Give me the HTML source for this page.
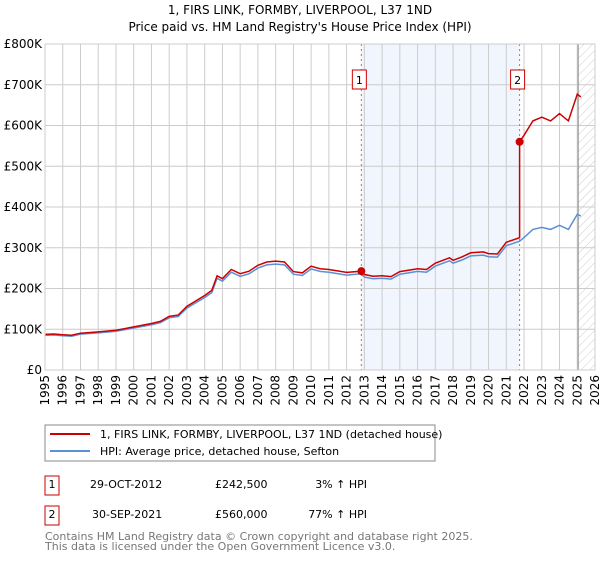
<!DOCTYPE html>
<html><head><meta charset="utf-8"><style>
body{margin:0;background:#fff;font-family:"DejaVu Sans","Liberation Sans",sans-serif;}
svg text{font-family:"DejaVu Sans","Liberation Sans",sans-serif;}
</style></head><body>
<svg id="c" width="600" height="560" xmlns="http://www.w3.org/2000/svg">
<defs><pattern id="hatch" width="6" height="6" patternUnits="userSpaceOnUse" patternTransform="rotate(45)"><line x1="0" y1="0" x2="0" y2="6" stroke="#ccc" stroke-width="1"/></pattern></defs>
<text x="300" y="14" text-anchor="middle" font-size="12" fill="#000">1, FIRS LINK, FORMBY, LIVERPOOL, L37 1ND</text>
<text x="300" y="31" text-anchor="middle" font-size="12" fill="#000">Price paid vs. HM Land Registry's House Price Index (HPI)</text>
<g id="plot"></g>
<rect x="45" y="425" width="390" height="36" fill="#fff" stroke="#888"/>
<line x1="50" y1="434" x2="90" y2="434" stroke="#cc0000" stroke-width="2"/>
<text x="100" y="438" font-size="11">1, FIRS LINK, FORMBY, LIVERPOOL, L37 1ND (detached house)</text>
<line x1="50" y1="451" x2="90" y2="451" stroke="#5b8fd6" stroke-width="2"/>
<text x="100" y="455" font-size="11">HPI: Average price, detached house, Sefton</text>
<g font-size="11">
<rect x="45" y="476" width="14" height="19" fill="#fff" stroke="#cc0000"/>
<text x="52" y="488" text-anchor="middle">1</text>
<text x="90" y="488">29-OCT-2012</text><text x="215" y="488">£242,500</text><text x="367" y="488" text-anchor="end">3% ↑ HPI</text>
<rect x="45" y="506" width="14" height="19" fill="#fff" stroke="#cc0000"/>
<text x="52" y="518" text-anchor="middle">2</text>
<text x="92" y="518">30-SEP-2021</text><text x="215" y="518">£560,000</text><text x="367" y="518" text-anchor="end">77% ↑ HPI</text>
</g>
<text x="45" y="540" font-size="11" fill="#777">Contains HM Land Registry data © Crown copyright and database right 2025.</text>
<text x="45" y="550" font-size="11" fill="#777">This data is licensed under the Open Government Licence v3.0.</text>
</svg>
<script>
const hpiYears=[1995,1995.5,1996,1996.5,1997,1998,1999,2000,2001,2001.5,2002,2002.5,2003,2004,2004.4,2004.7,2005,2005.5,2006,2006.5,2007,2007.5,2008,2008.5,2009,2009.5,2010,2010.5,2011,2012,2012.83,2013,2013.5,2014,2014.5,2015,2016,2016.5,2017,2017.8,2018,2018.5,2019,2019.7,2020,2020.5,2021,2021.75,2022,2022.5,2023,2023.5,2024,2024.5,2025,2025.2];
const hpiValues=[85,86,84,83,88,91,95,103,111,116,128,131,152,178,190,225,218,240,230,236,250,258,260,258,235,232,248,242,240,233,236,228,224,225,223,235,242,240,255,268,262,270,280,282,278,277,305,316,325,345,350,345,355,345,382,378];
const sales=[{t:2012.83,v:242.5,label:"1"},{t:2021.75,v:560,label:"2"}];
const yTicks=[0,100,200,300,400,500,600,700,800];
const yLabels=["£0","£100K","£200K","£300K","£400K","£500K","£600K","£700K","£800K"];
const xTicks=[1995,1996,1997,1998,1999,2000,2001,2002,2003,2004,2005,2006,2007,2008,2009,2010,2011,2012,2013,2014,2015,2016,2017,2018,2019,2020,2021,2022,2023,2024,2025,2026];

const NS="http://www.w3.org/2000/svg";
const X0=45,X1=595,Y0=370,Y1=44;
const xs=t=>X0+(t-1995)/(2026-1995)*(X1-X0);
const ys=v=>Y0-v/800*(Y0-Y1);
const g=document.getElementById('plot');
function mk(tag,a){const e=document.createElementNS(NS,tag);for(const k in a)e.setAttribute(k,a[k]);g.appendChild(e);return e;}
function hpiAt(t){for(let i=1;i<hpiYears.length;i++){if(t<=hpiYears[i]){const f=(t-hpiYears[i-1])/(hpiYears[i]-hpiYears[i-1]);return hpiValues[i-1]+f*(hpiValues[i]-hpiValues[i-1]);}}return hpiValues[hpiValues.length-1];}

let sh=mk('rect',{x:xs(sales[0].t),y:Y1,width:xs(sales[1].t)-xs(sales[0].t),height:Y0-Y1,fill:'#eef3fc',opacity:0.8});


let ht=mk('rect',{x:xs(2025.05),y:Y1,width:X1-xs(2025.05),height:Y0-Y1,fill:'url(#hatch)'});


xTicks.forEach((t,i)=>{
 let l=mk('line',{x1:xs(t),x2:xs(t),y1:Y1,y2:Y0,stroke:'#ccc'});
 
 
 let tx=mk('text',{x:0,y:0,'font-size':12,'text-anchor':'end',transform:`translate(${xs(t)+4},${Y0+5}) rotate(-90)`});
 tx.textContent=t;
 
 
});
yTicks.forEach((v,i)=>{
 let l=mk('line',{x1:X0,x2:X1,y1:ys(v),y2:ys(v),stroke:'#ccc'});
 
 
 let tx=mk('text',{x:X0-3,y:ys(v)+4,'font-size':12,'text-anchor':'end'});
 tx.textContent=yLabels[i];
 
 
});
let vl=mk('line',{x1:xs(2025.05),x2:xs(2025.05),y1:Y1,y2:Y0,stroke:'#888'});


sales.forEach(s=>{
 let l=mk('line',{x1:xs(s.t),x2:xs(s.t),y1:Y1,y2:Y0,stroke:'#e06060','stroke-dasharray':'2,3'});
 
 
 let r=mk('rect',{x:xs(s.t)-9,y:70,width:14,height:19,fill:'#fff',stroke:'#cc0000'});
 
 
 let tx=mk('text',{x:xs(s.t)-2,y:84,'font-size':11,'text-anchor':'middle'});
 tx.textContent=s.label;
 
 
});
let hp=hpiYears.map((t,i)=>`${xs(t).toFixed(1)},${ys(hpiValues[i]).toFixed(1)}`).join(' ');
let hl=mk('polyline',{points:hp,fill:'none',stroke:'#5b8fd6','stroke-width':1.5});


const r1=sales[0].v/hpiAt(sales[0].t),r2=sales[1].v/hpiAt(sales[1].t);
let pts=[];
hpiYears.forEach((t,i)=>{
 if(t<sales[1].t) pts.push([t,hpiValues[i]*r1]);
});
pts.push([sales[1].t,hpiAt(sales[1].t)*r1]);
pts.push([sales[1].t,sales[1].v]);
hpiYears.forEach((t,i)=>{ if(t>sales[1].t) pts.push([t,hpiValues[i]*r2]); });
let pl=mk('polyline',{points:pts.map(p=>`${xs(p[0]).toFixed(1)},${ys(p[1]).toFixed(1)}`).join(' '),fill:'none',stroke:'#cc0000','stroke-width':1.5});


sales.forEach(s=>{
 let c=mk('circle',{cx:xs(s.t),cy:ys(s.v),r:4,fill:'#cc0000'});
 
 
});
let fr=mk('rect',{x:X0,y:Y1,width:X1-X0,height:Y0-Y1,fill:'none',stroke:'#ccc'});


</script>
</body></html>
